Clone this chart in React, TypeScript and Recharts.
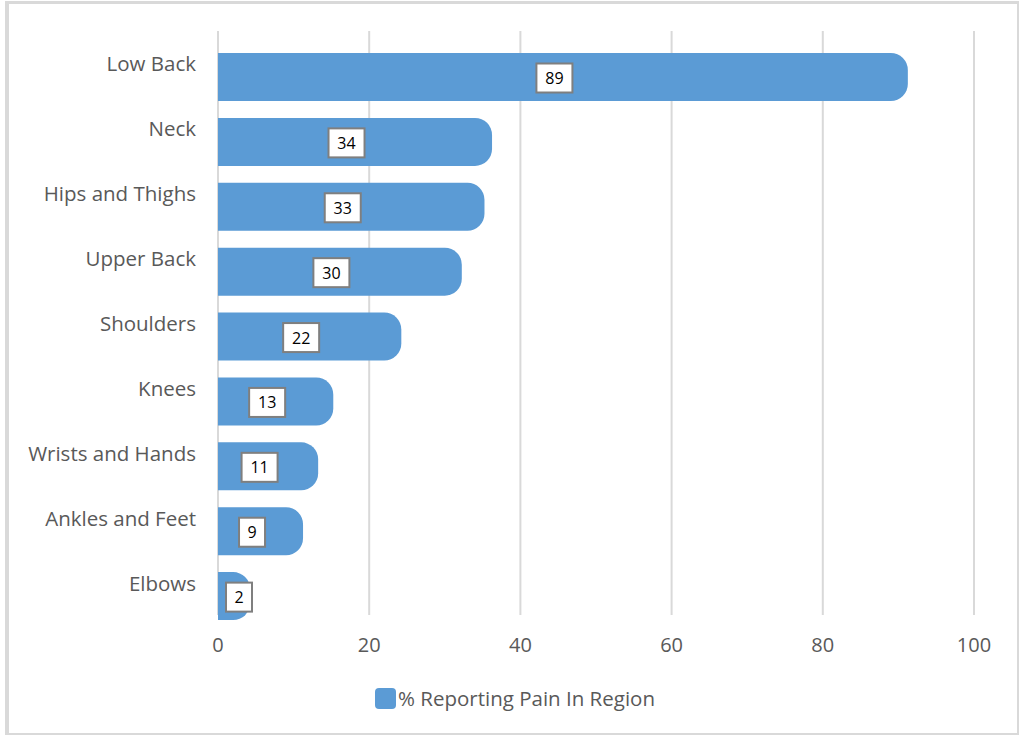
import React from 'react';
import { BarChart, Bar, XAxis, YAxis, CartesianGrid, LabelList } from 'recharts';

const categories = ['Low Back', 'Neck', 'Hips and Thighs', 'Upper Back', 'Shoulders', 'Knees', 'Wrists and Hands', 'Ankles and Feet', 'Elbows'];
const values = [89, 34, 33, 30, 22, 13, 11, 9, 2];
const xTicks = [0, 20, 40, 60, 80, 100];
const seriesName = '% Reporting Pain In Region';

const data = categories.map((c, i) => ({ name: c, value: values[i] }));

const FONT = '"Open Sans", sans-serif';
const BLUE = '#5b9bd5';
const GRAY = '#595959';

const RoundBar = (props: any) => {
  const { x, y, width, height } = props;
  const r = 17;
  const end = x + width + r;
  const d = `M${x},${y} L${end - r},${y} A${r},${r} 0 0 1 ${end},${y + r} L${end},${y + height - r} A${r},${r} 0 0 1 ${end - r},${y + height} L${x},${y + height} Z`;
  return <path d={d} fill={BLUE} />;
};

const ValueLabel = (props: any) => {
  const { x, y, width, height, value } = props;
  const txt = String(value);
  const bw = txt.length > 1 ? 36 : 26;
  const bh = 29;
  let cx = x + width / 2;
  if (cx - bw / 2 < x + 8) cx = x + 8 + bw / 2;
  const cy = y + height / 2 + 1;
  return (
    <g>
      <rect x={cx - bw / 2} y={cy - bh / 2} width={bw} height={bh} fill="#ffffff" stroke="#7f7f7f" strokeWidth={2} />
      <text x={cx} y={cy} textAnchor="middle" dominantBaseline="central" fontFamily={FONT} fontSize={16} fill="#000000">{txt}</text>
    </g>
  );
};

const CatTick = (props: any) => {
  const { y, payload } = props;
  return (
    <text x={196} y={y - 14} textAnchor="end" dominantBaseline="central" fontFamily={FONT} fontSize={20.5} fill={GRAY}>{payload.value}</text>
  );
};

export default function App() {
  return (
    <div style={{ position: 'relative', width: 1021, height: 736, background: '#fff', overflow: 'hidden' }}>
      <style>{'html,body{margin:0;padding:0;}'}</style>
      <BarChart width={1021} height={736} data={data} layout="vertical" margin={{ top: 45, right: 47, bottom: 77, left: 0 }}>
        <CartesianGrid horizontal={false} vertical={true} stroke="#d9d9d9" strokeWidth={2} y={31} height={584} />
        <XAxis type="number" domain={[0, 100]} ticks={xTicks} axisLine={false} tickLine={false} tickMargin={3}
          tick={{ fill: GRAY, fontSize: 20, fontFamily: FONT }} />
        <YAxis type="category" dataKey="name" width={218} axisLine={false} tickLine={false} tick={<CatTick />} interval={0} />
        <Bar dataKey="value" name={seriesName} barSize={48} shape={<RoundBar />} isAnimationActive={false}>
          <LabelList dataKey="value" content={<ValueLabel />} />
        </Bar>
      </BarChart>
      <div style={{ position: 'absolute', left: 375, top: 688, width: 21, height: 21, background: BLUE, borderRadius: 4 }} />
      <div style={{ position: 'absolute', left: 398, top: 684, fontFamily: FONT, fontSize: 20.5, color: GRAY, lineHeight: '28px', whiteSpace: 'nowrap' }}>{seriesName}</div>
      <div style={{ position: 'absolute', left: 5, top: 1, width: 1014, height: 734, boxSizing: 'border-box', borderStyle: 'solid', borderColor: '#d9d9d9', borderLeftWidth: 4, borderTopWidth: 3, borderRightWidth: 2, borderBottomWidth: 2, pointerEvents: 'none' }} />
    </div>
  );
}
